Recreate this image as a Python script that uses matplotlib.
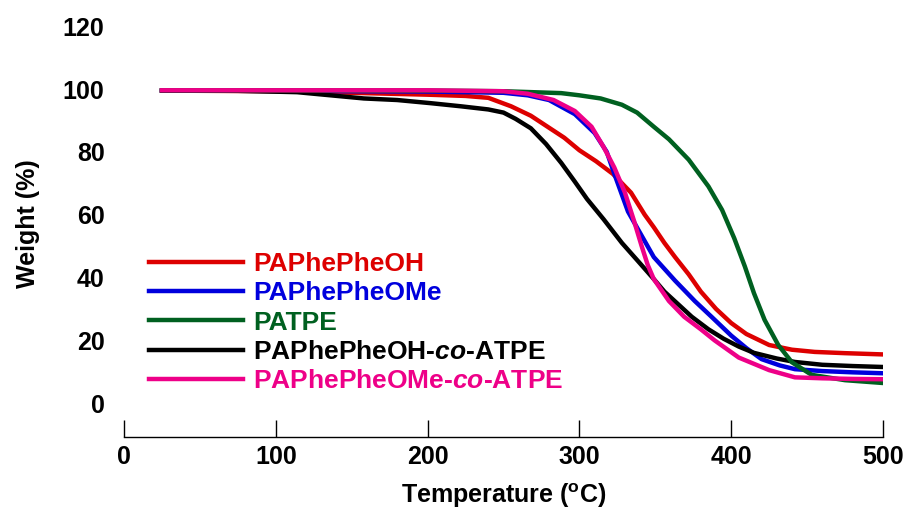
import matplotlib
matplotlib.use("Agg")
import matplotlib.pyplot as plt

plt.rcParams['font.family'] = ['Liberation Sans', 'DejaVu Sans']
plt.rcParams['font.weight'] = 'bold'
plt.rcParams['mathtext.fontset'] = 'custom'
plt.rcParams['mathtext.rm'] = 'Liberation Sans:bold'
plt.rcParams['mathtext.it'] = 'Liberation Sans:italic:bold'
plt.rcParams['mathtext.bf'] = 'Liberation Sans:bold'

# TGA curves (temperature in C, weight in %)
t_oh = [25, 100, 150, 200, 225, 240, 255, 268, 279, 290, 300, 311, 322, 334, 343, 349, 356,
        363, 372, 380, 390, 400, 410, 425, 440, 455, 475, 500]
w_oh = [99.5, 99.3, 98.8, 98.2, 97.8, 97.2, 94.5, 91.5, 88, 84.5, 80.5, 77, 73, 67, 60, 56, 51,
        46.5, 41, 35.5, 30, 25.5, 22, 18.5, 17, 16.3, 15.9, 15.5]

t_ome = [25, 100, 200, 250, 266, 280, 297, 310, 318, 323, 332, 339, 349, 363, 376, 387, 400,
         410, 420, 432, 442, 460, 480, 500]
w_ome = [99.5, 99.4, 99.2, 98.8, 98, 96.5, 92, 86, 80, 73, 61, 55, 46.5, 39, 32.5, 27.5, 21.5,
         17.5, 14, 12, 10.8, 10.2, 9.8, 9.5]

t_atpe = [25, 100, 200, 250, 288, 300, 314, 328, 338, 349, 359, 372, 385, 394, 402, 409, 415,
          422, 431, 440, 453, 475, 500]
w_atpe = [99.6, 99.6, 99.5, 99.3, 98.7, 98, 97, 95, 92.5, 88, 84, 77.5, 69, 61.5, 52.5, 43.5, 35,
          26.5, 18.5, 13, 9, 7.3, 6.4]

t_oh_co = [25, 70, 114, 136, 158, 180, 202, 222, 240, 250, 258, 268, 278, 288, 297, 305, 316,
           328, 339, 349, 356, 365, 374, 385, 395, 405, 415, 430, 442, 460, 480, 500]
w_oh_co = [99.5, 99.5, 99, 98, 97, 96.5, 95.5, 94.5, 93.5, 92.5, 90.5, 87.5, 82.5, 76.5, 70.5, 65,
           58.5, 51, 45, 39.5, 35.5, 31.5, 27.5, 23.5, 20.5, 18, 16, 14.2, 13.1, 12.2, 11.8, 11.5]

t_ome_co = [25, 100, 200, 250, 266, 283, 297, 308, 316, 323, 330, 336, 341, 345, 349, 359, 369,
            380, 389, 405, 425, 442, 460, 480, 500]
w_ome_co = [99.6, 99.6, 99.6, 99.3, 98.5, 96.5, 93, 88, 81.5, 75, 67, 58, 50, 44, 39.5, 32.5, 27.5,
            23.5, 20, 14.5, 10.5, 8.2, 7.9, 7.7, 7.6]

names = ['PAPhePheOH', 'PAPhePheOMe', 'PATPE',
         'PAPhePheOH-$co$-ATPE', 'PAPhePheOMe-$co$-ATPE']
colors = ['#dd0000', '#0000dd', '#006020', '#000000', '#ee0088']

fig = plt.figure(figsize=(9.06, 5.13), dpi=100)
ax = fig.add_axes([0.1369, 0.1481, 0.8377, 0.8314])

series = [(t_oh, w_oh), (t_ome, w_ome), (t_atpe, w_atpe), (t_oh_co, w_oh_co), (t_ome_co, w_ome_co)]
handles = []
for (t, w), name, c in zip(series, names, colors):
    h, = ax.plot(t, w, color=c, lw=3.2, label=name)
    handles.append(h)
# draw order: green then pink on top
handles[2].set_zorder(3)
handles[4].set_zorder(4)

ax.set_xlim(0, 500)
ax.set_ylim(-10.8, 125)
ax.set_xticks(range(0, 501, 100))
ax.set_yticks(range(0, 121, 20))
for s in ['top', 'right', 'left']:
    ax.spines[s].set_visible(False)
ax.spines['bottom'].set_linewidth(1.0)
ax.tick_params(axis='x', direction='in', length=12, width=1.0, pad=6, labelsize=18)
ax.tick_params(axis='y', length=0, pad=14, labelsize=18)

ax.set_xlabel(r'Temperature ($\mathregular{^o}$C)', fontsize=18, fontweight='bold', labelpad=9)
ax.set_ylabel('Weight (%)', fontsize=18, fontweight='bold', labelpad=16.5)

leg = ax.legend(handles=handles, loc='upper left', bbox_to_anchor=(149 / 906, 1 - 252 / 513),
                bbox_transform=fig.transFigure, frameon=False, fontsize=19,
                handlelength=3.56, handletextpad=0.38, labelspacing=0.2,
                borderpad=0, borderaxespad=0, labelcolor='linecolor')

fig.savefig('out.png', dpi=100)
